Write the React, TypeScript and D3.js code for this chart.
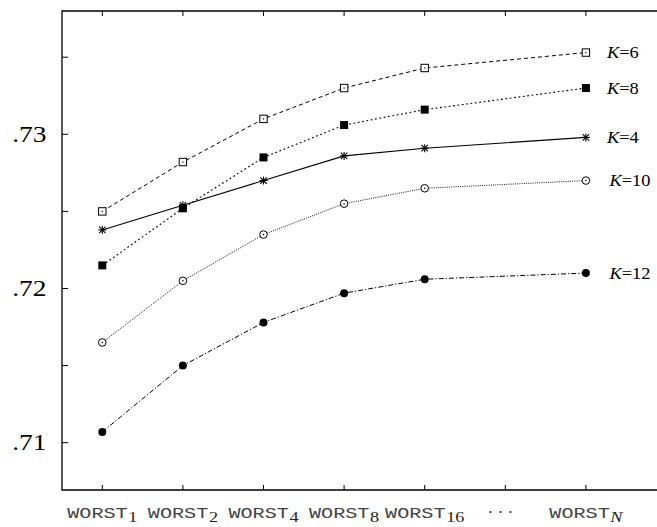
import React from "react";
import * as d3 from "d3";

const xBase = "WORST";
const xSubs = ["1", "2", "4", "8", "16", "", "N"];
const xTickIdx = [1, 2, 3, 4, 5, 6, 7];
const dataIdx = [1, 2, 3, 4, 5, 7];

const seriesNames = ["6", "8", "4", "10", "12"];
const k6 = [0.725, 0.7282, 0.731, 0.733, 0.7343, 0.7353];
const k8 = [0.7215, 0.7252, 0.7285, 0.7306, 0.7316, 0.733];
const k4 = [0.7238, 0.7254, 0.727, 0.7286, 0.7291, 0.7298];
const k10 = [0.7165, 0.7205, 0.7235, 0.7255, 0.7265, 0.727];
const k12 = [0.7107, 0.715, 0.7178, 0.7197, 0.7206, 0.721];

const yTicks = [0.71, 0.715, 0.72, 0.725, 0.73, 0.735];
const yLabels = [".71", "", ".72", "", ".73", ""];

const W = 657;
const H = 527;
const left = 62;
const top = 11;
const bottom = 490;
const step = 80.6;

const SERIF = "Liberation Serif, Times New Roman, Times, serif";
const MONO = "Liberation Mono, Courier New, monospace";

const x = d3.scaleLinear().domain([0.5, 8.5]).range([left, left + 8 * step]);
const y = d3.scaleLinear().domain([0.71, 0.73]).range([442.7, 134.3]);

const styles = [
  { dash: "4,3", marker: "osq", width: 1 },
  { dash: "1.8,2.6", marker: "fsq", width: 1.1 },
  { dash: "", marker: "ast", width: 1.1 },
  { dash: "1,1.2", marker: "ocirc", width: 0.9 },
  { dash: "5,2,1.2,2", marker: "fcirc", width: 1 },
];

function Marker({ kind, cx, cy }: { kind: string; cx: number; cy: number }) {
  if (kind === "osq")
    return (
      <g>
        <rect x={cx - 3.7} y={cy - 3.7} width={7.4} height={7.4} fill="white" stroke="black" strokeWidth={1} />
        <rect x={cx - 0.6} y={cy - 0.6} width={1.2} height={1.2} fill="black" />
      </g>
    );
  if (kind === "fsq")
    return <rect x={cx - 4} y={cy - 4} width={8} height={8} fill="black" />;
  if (kind === "ast") {
    const r = 4;
    const d = 3.2;
    return (
      <g stroke="black" strokeWidth={1.1}>
        <line x1={cx - r} y1={cy} x2={cx + r} y2={cy} />
        <line x1={cx} y1={cy - r} x2={cx} y2={cy + r} />
        <line x1={cx - d} y1={cy - d} x2={cx + d} y2={cy + d} />
        <line x1={cx - d} y1={cy + d} x2={cx + d} y2={cy - d} />
      </g>
    );
  }
  if (kind === "ocirc")
    return (
      <g>
        <circle cx={cx} cy={cy} r={3.8} fill="white" stroke="black" strokeWidth={1} />
        <circle cx={cx} cy={cy} r={0.8} fill="black" />
      </g>
    );
  return <circle cx={cx} cy={cy} r={4} fill="black" />;
}

export default function App() {
  const all = [k6, k8, k4, k10, k12];
  const line = d3
    .line<number>()
    .x((_, i) => x(dataIdx[i]))
    .y((v) => y(v));
  const right = 700;
  return (
    <svg width={W} height={H} style={{ position: "absolute", left: 0, top: 0, background: "white" }}>
      <rect x={0} y={0} width={W} height={H} fill="white" />
      <path d={`M${right},${top}H${left}V${bottom}H${right}`} fill="none" stroke="black" strokeWidth={1.3} />
      {yTicks.map((t, i) => (
        <g key={"yt" + i}>
          <line x1={left} x2={left + 6} y1={y(t)} y2={y(t)} stroke="black" strokeWidth={1} />
          {yLabels[i] && (
            <g transform={`translate(${left - 15.5},${y(t) + 7.5}) scale(1.22,1)`}>
              <text textAnchor="end" fontFamily={SERIF} fontSize={22.5}>
                {yLabels[i]}
              </text>
            </g>
          )}
        </g>
      ))}
      {xTickIdx.map((t, i) => (
        <g key={"xt" + i}>
          <line x1={x(t)} x2={x(t)} y1={bottom} y2={bottom - 5} stroke="black" strokeWidth={1} />
          <line x1={x(t)} x2={x(t)} y1={top} y2={top + 5} stroke="black" strokeWidth={1} />
          {xSubs[i] === "" ? (
            <g transform={`translate(${x(t) - 3},${518}) scale(1.2,1)`}>
              <text textAnchor="middle" fontFamily={SERIF} fontSize={16} letterSpacing={3} fill="#444">
                {"\u00B7\u00B7\u00B7"}
              </text>
            </g>
          ) : (
            <g transform={`translate(${x(t)},${517.5}) scale(1.3,1)`}>
              <text textAnchor="middle" fontFamily={MONO} fontSize={15.5} fill="#444">
                {xBase}
                <tspan
                  fontFamily={SERIF}
                  fontStyle={xSubs[i] === "N" ? "italic" : "normal"}
                  fontSize={14}
                  dx={0.5}
                  dy={4.5}
                  fill="#222"
                >
                  {xSubs[i]}
                </tspan>
              </text>
            </g>
          )}
        </g>
      ))}
      {all.map((s, si) => (
        <path
          key={"l" + si}
          d={line(s) || ""}
          fill="none"
          stroke="black"
          strokeWidth={styles[si].width}
          strokeDasharray={styles[si].dash || undefined}
        />
      ))}
      {all.map((s, si) =>
        s.map((v, i) => <Marker key={`m${si}-${i}`} kind={styles[si].marker} cx={x(dataIdx[i])} cy={y(v)} />)
      )}
      {all.map((s, si) => {
        const lx = x(dataIdx[dataIdx.length - 1]) + 21 + (seriesNames[si].length > 1 ? 2.5 : 0);
        const ly = y(s[s.length - 1]) + 5.5;
        return (
          <g key={"lab" + si} transform={`translate(${lx},${ly}) scale(1.15,1)`}>
            <text fontFamily={SERIF} fontSize={16}>
              <tspan fontStyle="italic">K</tspan>
              {"=" + seriesNames[si]}
            </text>
          </g>
        );
      })}
    </svg>
  );
}
